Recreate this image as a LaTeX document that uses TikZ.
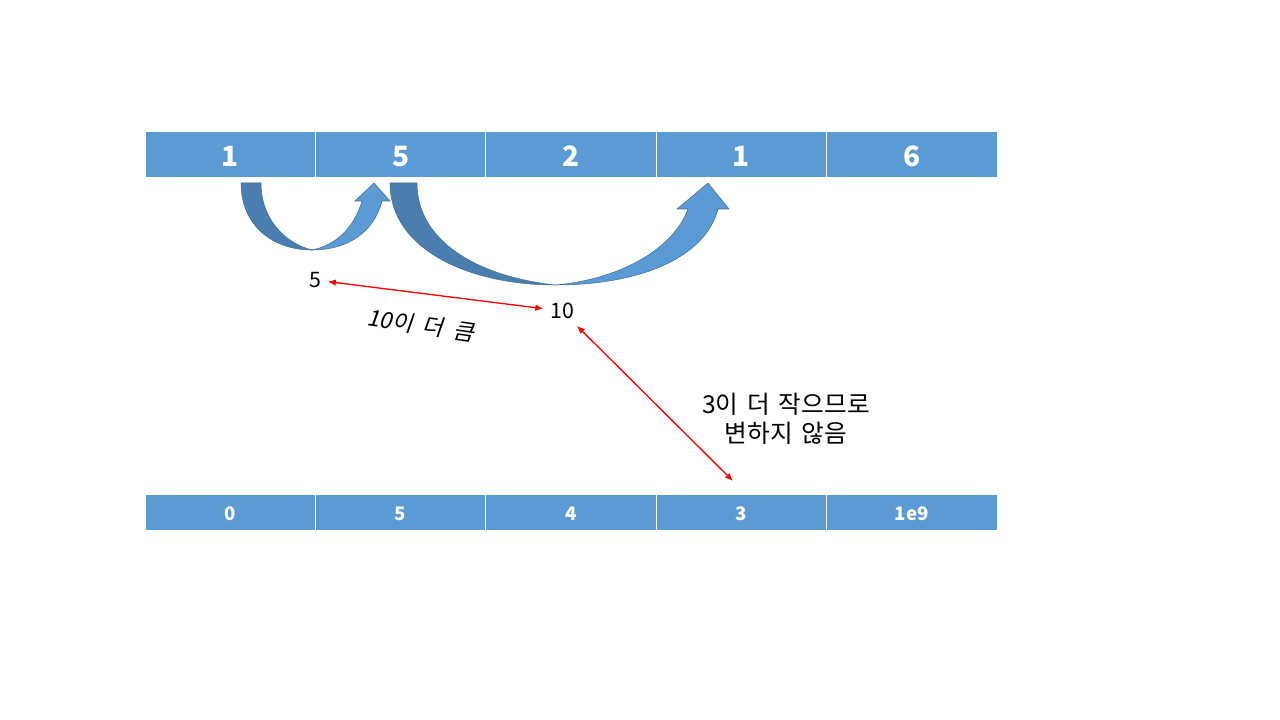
\documentclass[tikz,border=0pt]{standalone}
\usepackage{fontspec}
\setmainfont{Noto Sans CJK KR}
\newfontfamily\slantfont[FakeSlant=0.2,WordSpace=2]{Noto Sans CJK KR}
\newfontfamily\widefont[WordSpace=1.6]{Noto Sans CJK KR}
\usetikzlibrary{arrows.meta}
\definecolor{cellblue}{HTML}{5B9BD5}
\definecolor{darkblue}{HTML}{4A7EB0}
\definecolor{edgeblue}{HTML}{41719C}
\tikzset{
  topcell/.style={fill=cellblue, draw=white, line width=0.6pt, minimum width=127.8pt, minimum height=34.5pt, inner sep=0pt, text height=19.5pt, text depth=0pt, text=white, font=\bfseries\fontsize{21}{24}\selectfont},
  botcell/.style={fill=cellblue, draw=white, line width=0.6pt, minimum width=127.8pt, minimum height=27pt, inner sep=0pt, text height=12.8pt, text depth=0pt, text=white, font=\bfseries\fontsize{14}{17}\selectfont},
  lbl/.style={inner sep=5pt, font=\fontsize{16}{19}\selectfont},
  redarrow/.style={draw=red, line width=1pt, {Latex[length=6pt,width=5pt]}-{Latex[length=6pt,width=5pt]}},
  darkpart/.style={fill=darkblue, draw=edgeblue, line width=0.4pt},
  lightpart/.style={fill=cellblue, draw=edgeblue, line width=0.4pt}
}
\begin{document}
\begin{tikzpicture}[x=0.75pt,y=-0.75pt]
\useasboundingbox (0,0) rectangle (1280,720);
% top row
\node[topcell] (t1) at (230.2,154) {1};
\node[topcell] (t2) at (400.6,154) {5};
\node[topcell] (t3) at (571,154) {2};
\node[topcell] (t4) at (741.4,154) {1};
\node[topcell] (t5) at (911.8,154) {6};
% bottom row
\node[botcell] (b1) at (230.2,512) {0};
\node[botcell] (b2) at (400.6,512) {5};
\node[botcell] (b3) at (571,512) {4};
\node[botcell] (b4) at (741.4,512) {3};
\node[botcell] (b5) at (911.8,512) {1e9};
% curved arrow 1
\path[darkpart] (241,183) .. controls (241,225) and (272,250) .. (312,250)
   .. controls (284,243) and (261,218) .. (261,183) -- cycle;
\path[lightpart] (312,250) .. controls (348,250) and (374,232) .. (382,201)
   -- (390,201) -- (374,183) -- (355,201) -- (362,201)
   .. controls (354,228) and (336,245) .. (312,250) -- cycle;
% curved arrow 2
\path[darkpart] (390,183) .. controls (390,250) and (470,285) .. (555,285)
   .. controls (475,276) and (417,240) .. (417,183) -- cycle;
\path[lightpart] (555,285) .. controls (640,285) and (705,258) .. (718,209)
   -- (729,209) -- (708,183) -- (677,209) -- (688,209)
   .. controls (672,252) and (615,280) .. (555,285) -- cycle;
% labels
\node[lbl] (five) at (315,280) {5};
\node[lbl] (ten) at (562,311) {10};
\node[inner sep=1pt, rotate=-8, font=\slantfont\fontsize{17}{20}\selectfont] (big) at (421,325) {10이 더 큼};
\node[align=center, font=\widefont\fontsize{18.5}{22}\selectfont] (small) at (786,419) {3이 더 작으므로\\변하지 않음};
\coordinate (tgt) at (733,481);
% red arrows
\draw[redarrow] (five) -- (ten);
\draw[redarrow] (ten) -- (tgt);
\end{tikzpicture}
\end{document}
